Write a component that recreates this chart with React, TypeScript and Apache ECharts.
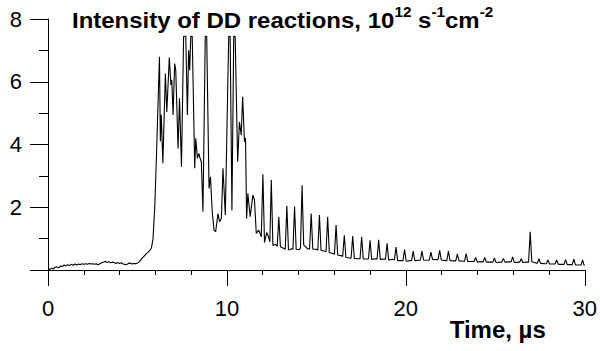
import React, { useEffect, useRef } from "react";
import * as echarts from "echarts";

const titleText = "Intensity of DD reactions, 10{sup|12} s{sup|-1}cm{sup|-2}";
const xAxisName = "Time, µs";
const xTicks = [0, 10, 20, 30];
const yTicks = [0, 2, 4, 6, 8];

// baseline and rise, 0 – 5.8 µs
const timeRise = [
  0, 0.1, 0.2, 0.3, 0.4, 0.5, 0.6, 0.7, 0.8, 0.9, 1.0, 1.1, 1.2, 1.3, 1.4, 1.5, 1.6, 1.7, 1.8, 1.9,
  2.0, 2.1, 2.2, 2.3, 2.4, 2.5, 2.6, 2.7, 2.8, 2.9, 3.0, 3.1, 3.2, 3.3, 3.4, 3.5, 3.6, 3.7, 3.8, 3.9,
  4.0, 4.1, 4.2, 4.3, 4.4, 4.5, 4.6, 4.7, 4.8, 4.9, 5.0, 5.1, 5.2, 5.3, 5.4, 5.5, 5.6, 5.7, 5.78,
];
const valueRise = [
  0.0, 0.02, 0.06, 0.03, 0.09, 0.1, 0.07, 0.13, 0.11, 0.16, 0.13, 0.17, 0.14, 0.18, 0.15, 0.19, 0.16, 0.19, 0.17, 0.2,
  0.18, 0.2, 0.18, 0.21, 0.19, 0.2, 0.18, 0.2, 0.17, 0.2, 0.23, 0.25, 0.28, 0.24, 0.26, 0.23, 0.25, 0.24, 0.21, 0.24,
  0.21, 0.23, 0.19, 0.18, 0.17, 0.21, 0.22, 0.19, 0.21, 0.2, 0.22, 0.26, 0.33, 0.4, 0.46, 0.52, 0.57, 0.63, 0.7,
];

// burst, 5.9 – 12 µs
const timeBurst = [
  5.87, 5.97, 6.06, 6.15, 6.23, 6.28, 6.33, 6.42, 6.56, 6.64, 6.78, 6.87, 6.92, 6.99, 7.08, 7.14,
  7.27, 7.35, 7.46, 7.58, 7.7, 7.79, 7.86, 7.92, 7.98, 8.06, 8.2, 8.26, 8.35, 8.43, 8.5, 8.57, 8.66,
  8.79, 8.87, 9.0, 9.08, 9.18, 9.28, 9.37, 9.5, 9.59, 9.69, 9.78, 9.91, 10.1, 10.18, 10.28, 10.38,
  10.46, 10.6, 10.7, 10.8, 10.88, 10.98, 11.04, 11.1, 11.17, 11.3, 11.45, 11.54, 11.64, 11.78, 11.92,
];
const valueBurst = [
  1.0, 2.05, 3.6, 5.3, 6.8, 4.1, 4.95, 3.4, 6.26, 5.04, 6.77, 5.9, 6.05, 4.94, 6.58, 6.37,
  3.87, 5.47, 3.29, 7.45, 7.45, 4.94, 7.0, 6.37, 7.45, 7.45, 3.24, 4.2, 3.56, 3.72, 3.56, 3.45, 1.86,
  7.45, 7.45, 2.6, 2.97, 1.85, 1.27, 1.22, 1.8, 1.54, 1.64, 3.24, 1.75, 7.45, 7.45, 1.9, 7.45,
  7.45, 3.45, 4.72, 4.3, 5.52, 4.09, 4.2, 1.64, 2.44, 1.7, 2.39, 2.23, 1.17, 1.27, 1.06,
];

// decaying pulse train, 12 – 30 µs
const timeTrain = [
  12.01, 12.1, 12.23, 12.33, 12.4, 12.48, 12.57, 12.72, 12.81, 12.9, 12.99, 13.16, 13.26, 13.35,
  13.44, 13.62, 13.69, 13.78, 13.87, 14.05, 14.11, 14.2, 14.29, 14.5, 14.62, 14.71, 14.8, 15.0,
  15.08, 15.17, 15.26, 15.5, 15.54, 15.63, 15.72, 15.95, 16.01, 16.1, 16.19, 16.42, 16.47, 16.56,
  16.65, 16.87, 16.94, 17.03, 17.12, 17.34, 17.44, 17.53, 17.62, 17.85, 17.91, 18.0, 18.09, 18.32,
  18.39, 18.48, 18.57, 18.8, 18.86, 18.95, 19.04, 19.27, 19.36, 19.45, 19.54, 19.77, 19.84, 19.93,
  20.02, 20.25, 20.32, 20.41, 20.5, 20.75, 20.81, 20.9, 20.99, 21.25, 21.31, 21.4, 21.49, 21.75,
  21.8, 21.89, 21.98, 22.23, 22.29, 22.38, 22.47, 22.73, 22.79, 22.88, 22.97, 23.23, 23.28, 23.37,
  23.46, 23.73, 23.81, 23.9, 23.99, 24.23, 24.32, 24.41, 24.5, 24.76, 24.86, 24.95, 25.04, 25.29,
  25.36, 25.45, 25.54, 25.8, 25.88, 25.97, 26.06, 26.3, 26.36, 26.45, 26.54, 26.74, 26.86, 26.95,
  27.04, 27.27, 27.35, 27.44, 27.53, 27.77, 27.85, 27.94, 28.03, 28.28, 28.34, 28.43, 28.52, 28.78,
  28.84, 28.93, 29.02, 29.25, 29.3, 29.39, 29.48, 29.73, 29.79, 29.88, 29.95, 30.0,
];
const valueTrain = [
  3.05, 0.88, 1.2, 1.05, 0.9, 2.87, 0.78, 0.82, 0.75, 1.7, 0.74, 0.69, 0.66, 2.05,
  0.64, 0.68, 0.66, 2.02, 0.66, 0.65, 0.7, 2.7, 0.8, 0.68, 0.67, 1.8, 0.66, 0.66,
  0.63, 1.75, 0.62, 0.6, 0.58, 1.7, 0.56, 0.52, 0.5, 1.43, 0.48, 0.45, 0.43, 1.11,
  0.4, 0.38, 0.38, 1.08, 0.37, 0.36, 0.36, 1.06, 0.35, 0.35, 0.35, 0.95, 0.34, 0.36,
  0.35, 0.96, 0.34, 0.35, 0.34, 0.85, 0.32, 0.34, 0.32, 0.73, 0.3, 0.3, 0.3, 0.65,
  0.28, 0.3, 0.3, 0.6, 0.3, 0.31, 0.31, 0.6, 0.32, 0.31, 0.32, 0.57, 0.34, 0.33,
  0.33, 0.63, 0.32, 0.3, 0.3, 0.6, 0.3, 0.29, 0.29, 0.51, 0.29, 0.28, 0.28, 0.52,
  0.27, 0.27, 0.27, 0.4, 0.26, 0.26, 0.26, 0.4, 0.25, 0.25, 0.25, 0.38, 0.24, 0.25,
  0.25, 0.37, 0.25, 0.26, 0.26, 0.42, 0.24, 0.25, 0.25, 0.36, 0.24, 0.25, 0.25, 1.22,
  0.26, 0.22, 0.22, 0.36, 0.21, 0.2, 0.2, 0.32, 0.19, 0.19, 0.19, 0.32, 0.18, 0.18,
  0.18, 0.33, 0.17, 0.17, 0.17, 0.35, 0.16, 0.16, 0.16, 0.32, 0.16, 0.16,
];

const FONT = "'Liberation Sans', Arial, Helvetica, sans-serif";

export default function App() {
  const ref = useRef<HTMLDivElement>(null);
  useEffect(() => {
    document.body.style.margin = "0";
    if (!ref.current) return;
    const chart = echarts.init(ref.current, undefined, { renderer: "svg" });
    const times = [...timeRise, ...timeBurst, ...timeTrain];
    const values = [...valueRise, ...valueBurst, ...valueTrain];
    const data = times.map((t, i) => [t, values[i]]);
    chart.setOption({
      animation: false,
      backgroundColor: "#fff",
      grid: { left: 48, right: 14, top: 19, bottom: 81, containLabel: false },
      graphic: [
        {
          type: "text",
          x: 72,
          y: 5,
          scaleX: 1.09,
          style: {
            text: titleText,
            fill: "#000",
            fontSize: 22,
            fontWeight: "bold",
            fontFamily: FONT,
            lineHeight: 30,
            verticalAlign: "top",
            rich: {
              sup: {
                fontSize: 14,
                fontWeight: "bold",
                fontFamily: FONT,
                lineHeight: 14,
                verticalAlign: "top",
                fill: "#000",
              },
            },
          },
        },
      ],
      xAxis: {
        type: "value",
        min: xTicks[0],
        max: xTicks[xTicks.length - 1],
        interval: 10,
        name: xAxisName,
        nameLocation: "end",
        nameGap: -39,
        nameTextStyle: {
          color: "#000",
          fontSize: 24,
          fontWeight: "bold",
          fontFamily: FONT,
          align: "right",
          verticalAlign: "top",
          lineHeight: 24,
          padding: [47, 0, 0, 0],
        },
        axisLine: { show: true, onZero: false, lineStyle: { color: "#000", width: 1 } },
        axisTick: { show: true, inside: false, length: 16, lineStyle: { color: "#000", width: 1 } },
        minorTick: { show: true, splitNumber: 5, length: 5, lineStyle: { color: "#000", width: 1 } },
        axisLabel: { color: "#000", fontSize: 22, fontFamily: FONT, margin: 27 },
        splitLine: { show: false },
        minorSplitLine: { show: false },
      },
      yAxis: {
        type: "value",
        min: yTicks[0],
        max: yTicks[yTicks.length - 1],
        interval: 2,
        axisLine: { show: true, onZero: false, lineStyle: { color: "#000", width: 1 } },
        axisTick: { show: true, inside: false, length: 18, lineStyle: { color: "#000", width: 1 } },
        minorTick: { show: true, splitNumber: 2, length: 9, lineStyle: { color: "#000", width: 1 } },
        axisLabel: {
          color: "#000",
          fontSize: 22,
          fontFamily: FONT,
          margin: 26,
          padding: [8, 0, 0, 0],
          formatter: (v: number) => (v === 0 ? "" : String(v)),
        },
        splitLine: { show: false },
        minorSplitLine: { show: false },
      },
      series: [
        {
          type: "line",
          data,
          showSymbol: false,
          symbol: "none",
          smooth: false,
          lineStyle: { color: "#000", width: 1.1 },
          clip: true,
        },
      ],
    });
    return () => chart.dispose();
  }, []);
  return <div ref={ref} style={{ width: 600, height: 351 }} />;
}
